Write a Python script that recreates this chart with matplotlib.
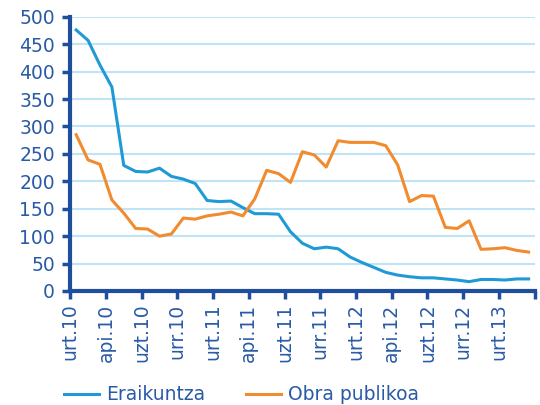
import numpy as np
import matplotlib.pyplot as plt

plt.rcParams['font.family'] = ['DejaVu Sans']

quarter_labels = ['urt.10', 'api.10', 'uzt.10', 'urr.10', 'urt.11', 'api.11', 'uzt.11',
                  'urr.11', 'urt.12', 'api.12', 'uzt.12', 'urr.12', 'urt.13']

eraikuntza = [476, 457, 412, 372, 229, 218, 217, 224, 209, 204, 196, 165, 163, 164,
              152, 141, 141, 140, 108, 87, 77, 80, 77, 62, 52, 43, 34, 29, 26, 24,
              24, 22, 20, 17, 21, 21, 20, 22, 22]
obra_publikoa = [285, 239, 231, 166, 142, 114, 113, 100, 104, 133, 131, 137, 140, 144,
                 137, 168, 220, 214, 198, 254, 248, 226, 274, 271, 271, 271, 265, 230,
                 163, 174, 173, 116, 114, 128, 76, 77, 79, 74, 71]

dark = '#2a5aa6'
spine_col = '#1f4e9c'
fs = 13.5

fig = plt.figure(figsize=(5.4, 4.05), dpi=100)
ax = fig.add_axes([0.13, 0.2815, 0.86, 0.677])

x = np.arange(len(eraikuntza))
ax.plot(x, eraikuntza, color='#1f9ad6', lw=2.2, label='Eraikuntza')
ax.plot(x, obra_publikoa, color='#f28a2e', lw=2.2, label='Obra publikoa')

ax.set_xlim(-0.5, len(x) - 0.5)
ax.set_ylim(0, 500)
ax.set_yticks(np.arange(0, 501, 50))
ax.yaxis.grid(True, color='#bfe4f5', lw=1.5)
ax.set_axisbelow(True)

ticks = np.arange(-0.5, len(x), 3)
ax.set_xticks(ticks)
ax.set_xticklabels(quarter_labels + [''] * (len(ticks) - len(quarter_labels)),
                   rotation=90, va='top')

for s in ['top', 'right']:
    ax.spines[s].set_visible(False)
for s in ['left', 'bottom']:
    ax.spines[s].set_color(spine_col)
    ax.spines[s].set_linewidth(3)
ax.tick_params(axis='both', colors=spine_col, labelcolor=dark, labelsize=fs,
               width=2.5, length=6, pad=3)
ax.tick_params(axis='y', pad=5)

fig.legend(loc='center left', bbox_to_anchor=(0.1185, 0.025), ncol=2, frameon=False,
           fontsize=fs, labelcolor=dark, handlelength=1.87, columnspacing=2.2,
           handletextpad=0.37, borderpad=0, borderaxespad=0)

fig.savefig('out.png', dpi=100)
